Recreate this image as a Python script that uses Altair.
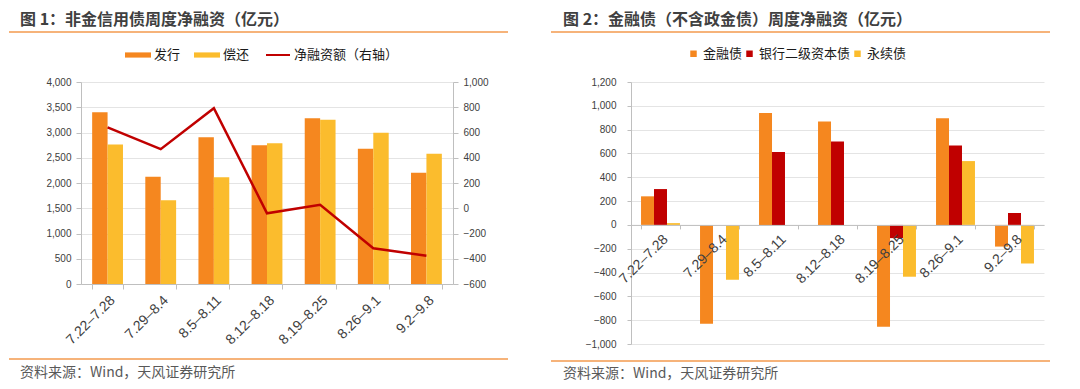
import altair as alt
import pandas as pd

# ---------------- data ----------------
weeks = ["7.22–7.28", "7.29–8.4", "8.5–8.11", "8.12–8.18", "8.19–8.25", "8.26–9.1", "9.2–9.8"]

left_series = ["发行", "偿还"]
issue = [3400, 2125, 2905, 2746, 3281, 2680, 2205]
repay = [2760, 1657, 2113, 2786, 3254, 2997, 2581]
net_name = "净融资额（右轴）"
net = [640, 468, 792, -40, 27, -317, -376]

right_series = ["金融债", "银行二级资本债", "永续债"]
fin_bond = [240, -831, 940, 868, -856, 895, -182]
tier2 = [301, 0, 613, 700, -111, 667, 100]
perpetual = [15, -460, 0, 0, -435, 536, -324]

title1 = "图 1：非金信用债周度净融资（亿元）"
title2 = "图 2：金融债（不含政金债）周度净融资（亿元）"
source = "资料来源：Wind，天风证券研究所"

ORANGE = "#F5871F"
YELLOW = "#FBBC2D"
RED = "#C00000"
LINE_OR = "#F39A4E"
CJK = "Noto Sans CJK SC"
NUM = "Liberation Sans"

# ---------------- left panel ----------------
W1, H1 = 372, 202
df1 = pd.DataFrame({
    "week": weeks * 2,
    "series": [left_series[0]] * len(weeks) + [left_series[1]] * len(weeks),
    "value": issue + repay,
})
dfn = pd.DataFrame({"week": weeks, "net": net, "s": [net_name] * len(weeks)})

x1 = alt.X("week:N", sort=weeks, title=None,
           scale=alt.Scale(paddingInner=0.42, paddingOuter=0.21),
           axis=alt.Axis(labelAngle=315, tickBand="extent", grid=False,
                         labelFontSize=14, tickSize=5, labelPadding=4))

bars1 = alt.Chart(df1).mark_bar().encode(
    x=x1,
    xOffset=alt.XOffset("series:N", sort=left_series,
                        scale=alt.Scale(paddingInner=0, paddingOuter=0)),
    y=alt.Y("value:Q", title=None,
            scale=alt.Scale(domain=[0, 4000], nice=False),
            axis=alt.Axis(values=list(range(0, 4001, 500)), format=",.0f",
                          orient="left", grid=True, tickSize=5, labelPadding=5)),
    color=alt.Color("series:N", sort=left_series,
                    scale=alt.Scale(domain=left_series, range=[ORANGE, YELLOW]),
                    legend=alt.Legend(title=None, orient="none", legendX=44, legendY=-40,
                                      direction="horizontal",
                                      symbolType="M-1,-0.2L1,-0.2L1,0.2L-1,0.2Z",
                                      symbolSize=676, symbolStrokeWidth=0,
                                      columnPadding=13, labelOffset=3)),
)

line1 = alt.Chart(dfn).mark_line(strokeWidth=2.5).encode(
    x=alt.X("week:N", sort=weeks, title=None,
            scale=alt.Scale(paddingInner=0.42, paddingOuter=0.21)),
    y=alt.Y("net:Q", title=None,
            scale=alt.Scale(domain=[-600, 1000], nice=False),
            axis=alt.Axis(values=list(range(-600, 1001, 200)), format=",.0f",
                          orient="right", grid=False, tickSize=5, labelPadding=5)),
    stroke=alt.Stroke("s:N", scale=alt.Scale(domain=[net_name], range=[RED]),
                      legend=alt.Legend(title=None, orient="none", legendX=184, legendY=-40,
                                        symbolType="stroke", symbolSize=576,
                                        symbolStrokeWidth=2, labelOffset=3)),
)

def decor(title, rule_l, rule_r, title_x, H, bottom_rule_dy, src_dy):
    one = pd.DataFrame({"t": [title]})
    src = pd.DataFrame({"t": [source]})
    top_rule = alt.Chart(one).mark_rule(color=LINE_OR, strokeWidth=1.5).encode(
        x=alt.value(rule_l), x2=alt.value(rule_r), y=alt.value(-50))
    bot_rule = alt.Chart(one).mark_rule(color=LINE_OR, strokeWidth=1.5).encode(
        x=alt.value(rule_l), x2=alt.value(rule_r), y=alt.value(H + bottom_rule_dy))
    ttl = alt.Chart(one).mark_text(align="left", baseline="bottom", font=CJK,
                                   fontSize=16, fontWeight="bold", color="#404040").encode(
        x=alt.value(title_x), y=alt.value(-54), text="t:N")
    src_t = alt.Chart(src).mark_text(align="left", baseline="middle", font=CJK,
                                     fontSize=14, color="#595959").encode(
        x=alt.value(title_x), y=alt.value(H + src_dy), text="t:N")
    return [top_rule, bot_rule, ttl, src_t]

left = alt.layer(
    bars1, line1, *decor(title1, -72, 427, -61, H1, 75, 89)
).resolve_scale(y="independent", color="independent").properties(width=W1, height=H1)

# ---------------- right panel ----------------
W2, H2 = 413, 262
ymin, ymax = -1000, 1200
df2 = pd.DataFrame({
    "week": weeks * 3,
    "series": sum([[s] * len(weeks) for s in right_series], []),
    "value": fin_bond + tier2 + perpetual,
})
zero_offset = -(H2 * (0 - ymin) / (ymax - ymin))

bars2 = alt.Chart(df2).mark_bar().encode(
    x=alt.X("week:N", sort=weeks, title=None,
            scale=alt.Scale(paddingInner=0.34, paddingOuter=0.17),
            axis=alt.Axis(labelAngle=315, tickBand="extent", grid=False,
                          offset=zero_offset, labelFontSize=14, tickSize=4,
                          labelPadding=3, zindex=1)),
    xOffset=alt.XOffset("series:N", sort=right_series,
                        scale=alt.Scale(paddingInner=0, paddingOuter=0)),
    y=alt.Y("value:Q", title=None,
            scale=alt.Scale(domain=[ymin, ymax], nice=False),
            axis=alt.Axis(values=list(range(ymin, ymax + 1, 200)), format=",.0f",
                          grid=True, tickSize=4, labelPadding=11)),
    color=alt.Color("series:N", sort=right_series,
                    scale=alt.Scale(domain=right_series, range=[ORANGE, RED, YELLOW]),
                    legend=alt.Legend(title=None, orient="none", legendX=56, legendY=-35,
                                      direction="horizontal", symbolType="square",
                                      symbolSize=42, symbolStrokeWidth=0,
                                      columnPadding=0, labelOffset=3)),
)

right = alt.layer(
    bars2, *decor(title2, -80, 419, -68, H2, 17, 30)
).properties(width=W2, height=H2)

chart = alt.hconcat(left, right, spacing=41).resolve_scale(
    x="independent", y="independent", color="independent",
    xOffset="independent", stroke="independent"
).resolve_legend(color="independent", stroke="independent").properties(
    padding={"left": 0, "top": 4, "right": 0, "bottom": 0}
).configure_view(strokeWidth=0).configure_axis(
    labelFont=NUM, labelColor="#404040", domainColor="#BFBFBF", tickColor="#BFBFBF",
    gridColor="#E4E4E4", domainWidth=1, gridWidth=1
).configure_legend(
    labelFont=CJK, labelFontSize=13, labelColor="#1A1A1A", symbolOpacity=1
)

chart.save("out.html", embed_options={"renderer": "svg", "actions": False})
